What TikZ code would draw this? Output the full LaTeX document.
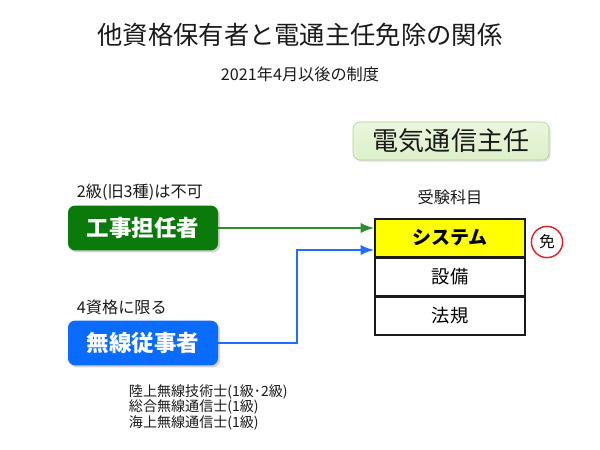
\documentclass[tikz,border=0pt]{standalone}
\usepackage{fontspec}
\setmainfont{Noto Sans CJK JP}
\usetikzlibrary{arrows.meta,positioning,shadows}
\definecolor{ink}{HTML}{1A1A1A}
\definecolor{koujigreen}{HTML}{0A7A0A}
\definecolor{arrowgreen}{HTML}{2E8B2E}
\definecolor{musenblue}{HTML}{0A6CFF}
\definecolor{arrowblue}{HTML}{1E6FFF}
\definecolor{leaf}{HTML}{DDF0C8}
\definecolor{leafline}{HTML}{A9D18E}
\definecolor{sysyellow}{HTML}{FFFF00}
\definecolor{menred}{HTML}{E02020}
\begin{document}
\begin{tikzpicture}[>=Latex,node distance=0.2cm,
  qual/.style={rounded corners=5pt,minimum width=3.75cm,minimum height=1.12cm,text=white,font=\fontsize{16}{18}\selectfont\bfseries,drop shadow={opacity=0.35,shadow xshift=0.05cm,shadow yshift=-0.05cm}},
  subj/.style={draw=ink,line width=1pt,minimum width=3.75cm,minimum height=0.94cm,font=\fontsize{13}{15}\selectfont},
  note/.style={text=ink,font=\fontsize{11.5}{13}\selectfont}]
\useasboundingbox (0,0) rectangle (15,11.25);
\node[text=ink,font=\fontsize{18}{22}\selectfont] (title) at (7.5,10.375) {他資格保有者と電通主任免除の関係};
\node[note] (sub) at (7.5,9.4) {2021年4月以後の制度};
\node[draw=leafline,top color=leaf!60,bottom color=leaf,rounded corners=5pt,minimum width=4.9cm,minimum height=0.95cm,font=\fontsize{18.5}{22}\selectfont,text=ink,drop shadow={opacity=0.25,shadow xshift=0.04cm,shadow yshift=-0.04cm}] (denki) at (11.275,7.725) {電気通信主任};
\node[note] (kamoku) at (11.25,6.325) {受験科目};
\node[subj,fill=sysyellow,font=\fontsize{13.5}{15}\selectfont\bfseries] (sys) at (11.25,5.3) {システム};
\node[subj,below=0pt of sys] (setsubi) {設備};
\node[subj,below=0pt of setsubi] (houki) {法規};
\node[circle,draw=menred,line width=1pt,minimum size=0.78cm,inner sep=0pt,font=\fontsize{11}{12}\selectfont] (men) at (13.675,5.2) {免};
\node[qual,fill=koujigreen] (kouji) at (3.575,5.55) {工事担任者};
\node[note,anchor=south west] (koujinote) at (1.8,6.12) {2級(旧3種)は不可};
\node[qual,fill=musenblue] (musen) at (3.575,2.675) {無線従事者};
\node[note,anchor=south west] (musennote) at (1.8,3.25) {4資格に限る};
\node[note,anchor=west,align=left,font=\fontsize{10}{11}\selectfont] (musenlist) at (3.1,1.07) {陸上無線技術士(1級･2級)\\総合無線通信士(1級)\\海上無線通信士(1級)};
\coordinate (bend) at (7.425,5.0);
\draw[->,line width=1.5pt,arrowgreen] (kouji.east) -- (kouji.east -| sys.west);
\draw[->,line width=1.5pt,arrowblue] (musen.east) -| (bend) -- (bend -| sys.west);
\end{tikzpicture}
\end{document}
